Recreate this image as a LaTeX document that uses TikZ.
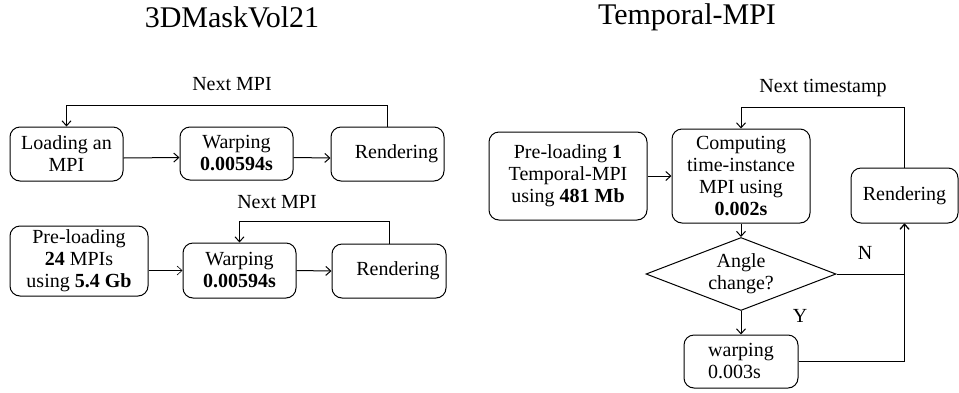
\documentclass[tikz,border=0pt]{standalone}
\usepackage{fontspec}
\setmainfont{Liberation Serif}
\usetikzlibrary{arrows.meta,shapes.geometric}
\tikzset{
  box/.style={draw, rounded corners=10pt, line width=1pt, inner sep=0pt, align=center,
    font=\fontsize{20}{22}\selectfont},
  lbl/.style={font=\fontsize{20}{22}\selectfont, inner sep=0pt},
  ttl/.style={font=\fontsize{30}{33}\selectfont, inner sep=0pt},
  arr/.style={line width=1pt, -{Straight Barb[length=5pt,width=9pt]}},
  ln/.style={line width=1pt},
}
\begin{document}
\begin{tikzpicture}[x=1pt,y=-1pt]
\useasboundingbox (0,0) rectangle (959,392);
% titles
\node[ttl] (t1) at (232,17) {3DMaskVol21};
\node[ttl] (t2) at (687,17) {Temporal-MPI};
% left top row
\node[box, minimum width=113pt, minimum height=54pt] (b1) at (66.5,154) {Loading an\\MPI};
\node[box, minimum width=113pt, minimum height=53pt] (b2) at (236.5,153.5) {Warping\\\textbf{0.00594s}};
\node[box, minimum width=113pt, minimum height=54pt] (b3) at (387.5,154) {\hspace*{18pt}Rendering};
\node[lbl] (n1) at (232,84) {Next MPI};
\draw[arr] (b3.north) -- ++(0,-21) -| (b1.north);
\draw[arr] ([yshift=-4pt]b1.east) -- ([yshift=-4pt]b2.west);
\draw[arr] ([yshift=-4pt]b2.east) -- ([yshift=-4pt]b3.west);
% left bottom row
\node[box, minimum width=138pt, minimum height=70pt] (b4) at (79,261) {Pre-loading\\\textbf{24} MPIs\\using \textbf{5.4 Gb}};
\node[box, minimum width=113pt, minimum height=55pt] (b5) at (239.5,270.5) {Warping\\\textbf{0.00594s}};
\node[box, minimum width=114pt, minimum height=54pt] (b6) at (389,271) {\hspace*{18pt}Rendering};
\node[lbl] (n2) at (277,202) {Next MPI};
\draw[arr] (b6.north) -- ++(0,-22) -| (b5.north);
\draw[arr, line width=0.6pt] (b4.east |- b5.west) -- (b5.west);
\draw[arr] (b5.east) -- (b6.west);
% right side
\node[box, minimum width=158pt, minimum height=88pt] (b7) at (568,176) {Pre-loading \textbf{1}\\Temporal-MPI\\using \textbf{481 Mb}};
\node[box, minimum width=138pt, minimum height=94pt] (b8) at (741,176) {Computing\\time-instance\\MPI using\\\textbf{0.002s}};
\node[box, minimum width=107pt, minimum height=55pt] (b9) at (904.5,195.5) {Rendering};
\node[lbl] (n3) at (823,88) {Next timestamp};
\draw[arr] (b9.north) -- ++(0,-60) -| (b8.north);
\draw[arr] (b7.east) -- (b8.west);
\node[draw, diamond, line width=1pt, inner sep=0pt, aspect=2.6, minimum width=190pt, minimum height=73pt,
  align=center, font=\fontsize{20}{22}\selectfont] (d) at (741,274) {Angle\\change?};
\draw[arr] (b8.south) -- (d.north);
\node[box, minimum width=114pt, minimum height=53pt, align=left] (b10) at (741,361.5) {warping\\0.003s};
\draw[arr] (d.south) -- (b10.north);
\draw[arr] (d.east) -| (b9.south);
\draw[arr] (b10.east) -| (b9.south);
\node[lbl] (nN) at (865,253) {N};
\node[lbl] (nY) at (800,316) {Y};
\end{tikzpicture}
\end{document}
